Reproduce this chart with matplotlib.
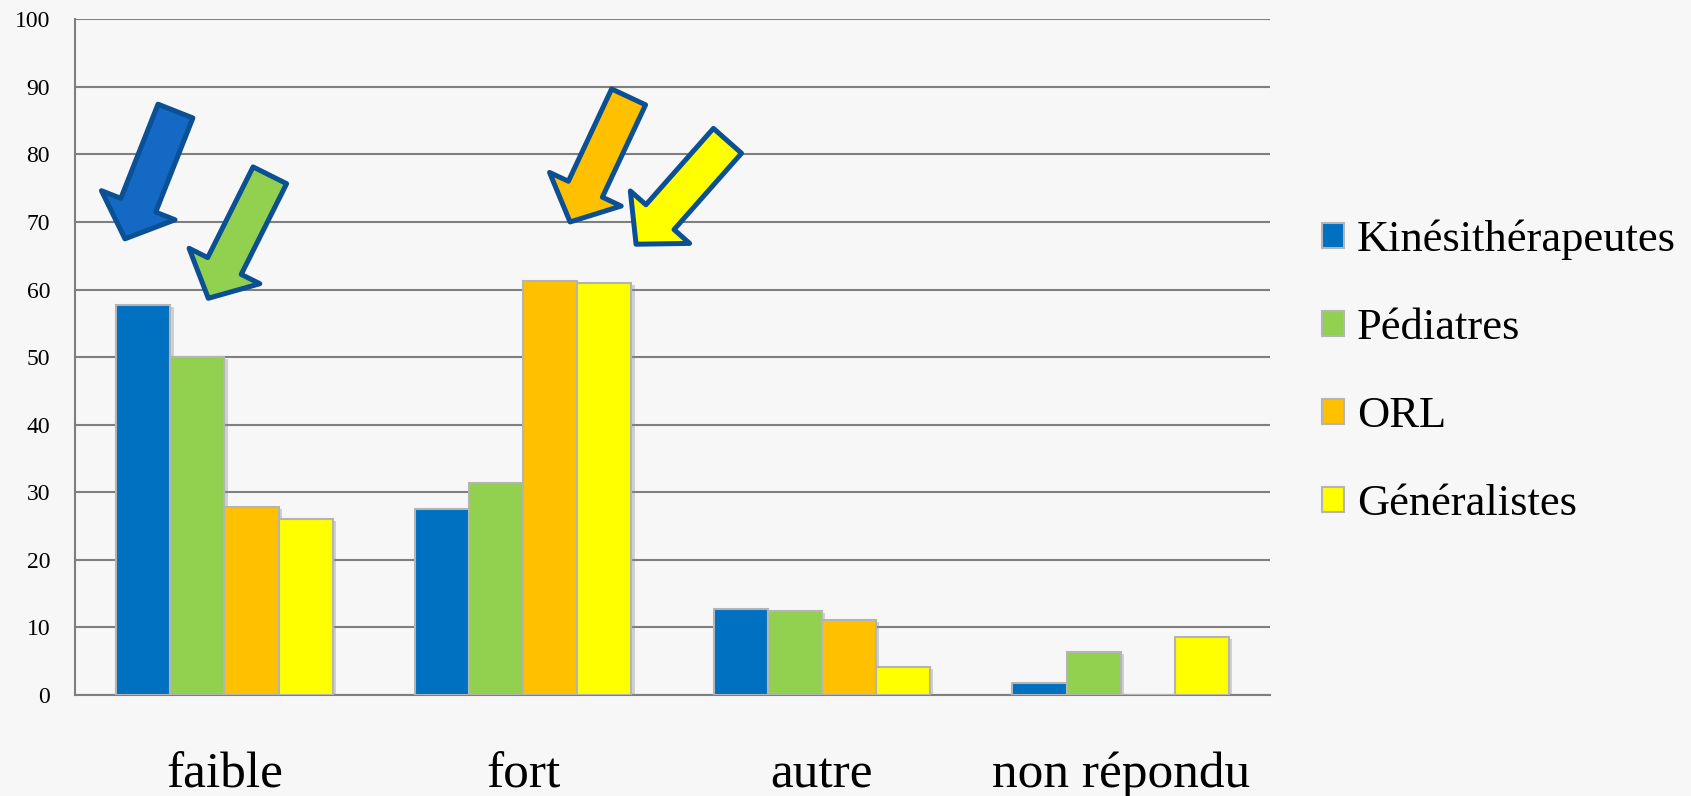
import matplotlib
matplotlib.use("Agg")
import matplotlib.pyplot as plt
import numpy as np
from matplotlib import patheffects as pe
from matplotlib.patches import Patch

categories = ["faible", "fort", "autre", "non répondu"]
series = ["Kinésithérapeutes", "Pédiatres", "ORL", "Généralistes"]
kine = [57.7, 27.5, 12.7, 1.8]
pedi = [50.0, 31.3, 12.5, 6.3]
orl = [27.8, 61.2, 11.1, 0.0]
gene = [26.1, 61.0, 4.2, 8.6]
values = [kine, pedi, orl, gene]
colors = ["#0070c0", "#92d050", "#ffc000", "#ffff00"]
yticks = list(range(0, 101, 10))

# decorative arrows: (tail, tip) in data coordinates, fill colour
arrows = [
    ((-0.164, 86.4), (-0.333, 67.5), "#1469c4"),
    ((0.152, 76.9), (-0.054, 58.7), "#92d050"),
    ((1.353, 88.5), (1.157, 70.0), "#ffc000"),
    ((1.684, 82.0), (1.378, 66.7), "#ffff00"),
]

bg = "#f7f7f7"
fig = plt.figure(figsize=(16.91, 7.96), dpi=100, facecolor=bg)
ax = fig.add_axes([0.0444, 0.1269, 0.7066, 0.849])
ax.set_facecolor("none")

x = np.arange(len(categories))
w = 0.181
for i, (vals, col, name) in enumerate(zip(values, colors, series)):
    pos = x + (i - 1.5) * w
    bars = ax.bar(pos, vals, width=w, color=col, edgecolor="#b4b4b4",
                  linewidth=1.5, zorder=3)
    for b in bars:
        if b.get_height() > 0:
            b.set_path_effects([pe.SimplePatchShadow(offset=(2.5, -1.5), shadow_rgbFace="#888888", alpha=0.35), pe.Normal()])

ax.set_xlim(-0.5, 3.5)
ax.set_ylim(0, 100)
ax.set_yticks(yticks)
ax.set_yticklabels([str(t) for t in yticks], fontsize=17, family="Liberation Serif")
ax.set_xticks(x)
ax.set_xticklabels(categories, fontsize=37, family="Liberation Serif")
ax.tick_params(axis="x", length=0, pad=41)
ax.tick_params(axis="y", length=0, pad=18)
ax.grid(axis="y", color="#7f7f7f", linewidth=1.5, zorder=0)
for s in ["top", "right"]:
    ax.spines[s].set_visible(False)
for s in ["left", "bottom"]:
    ax.spines[s].set_color("#7f7f7f")
    ax.spines[s].set_linewidth(1.5)

for tail, tip, col in arrows:
    ax.annotate("", xy=tip, xytext=tail, xycoords="data", textcoords="data",
                arrowprops=dict(arrowstyle="simple,head_length=2.6,head_width=5.7,tail_width=2.7",
                                mutation_scale=10, facecolor=col, edgecolor="#0b4f94",
                                linewidth=3.6, shrinkA=0, shrinkB=0),
                zorder=5)

handles = [Patch(facecolor=c, edgecolor="#b4b4b4", linewidth=1.5, label=n)
           for c, n in zip(colors, series)]
leg = fig.legend(handles=handles, loc="upper left", bbox_to_anchor=(0.771, 0.746), frameon=False,
                 prop={"family": "Liberation Serif", "size": 32},
                 handlelength=0.5, handleheight=0.5, handletextpad=0.3,
                 labelspacing=1.08, borderaxespad=0)

fig.savefig("out.png", dpi=100, facecolor=bg)
